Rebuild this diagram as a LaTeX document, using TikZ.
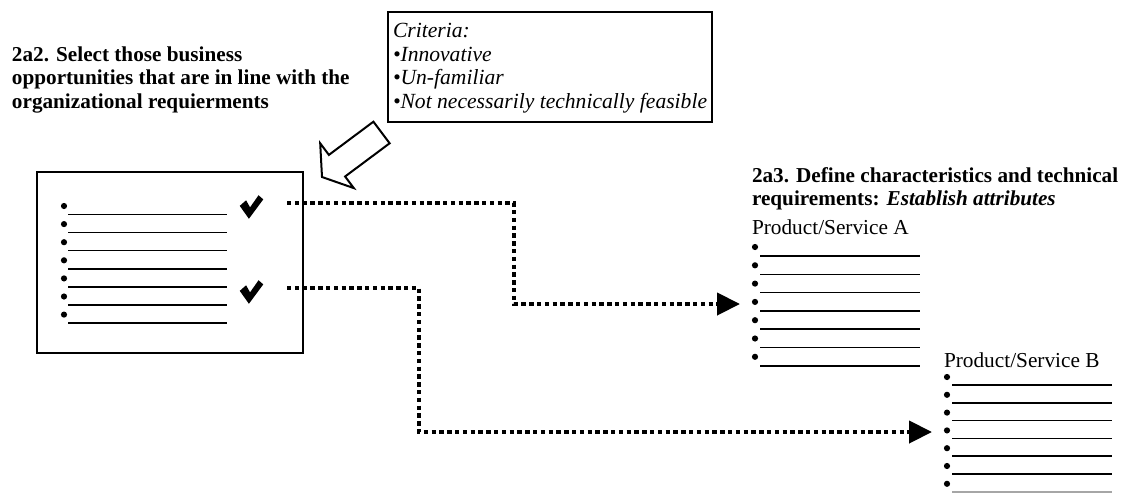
\documentclass[tikz,border=0pt]{standalone}
\usepackage{fontspec}
\setmainfont{Liberation Serif}
\usetikzlibrary{arrows.meta}
\begin{document}
\begin{tikzpicture}[x=1pt,y=-1pt,
  every node/.style={inner sep=0pt, outer sep=0pt},
  hd/.style={anchor=base west, font=\fontsize{21.2}{23.5}\selectfont\bfseries},
  crit/.style={anchor=base west, font=\fontsize{21.6}{23.5}\selectfont\itshape},
  ps/.style={anchor=base west, font=\fontsize{21.3}{24}\selectfont},
  frame/.style={draw, line width=1.7pt},
  dotline/.style={line width=4.3pt, dash pattern=on 4.3pt off 3.5pt,
    -{Triangle[length=23pt,width=22pt]}},
  itemline/.style={line width=1.5pt},
  bul/.style={radius=3.1pt},
  blockarrow/.style={draw, line width=2pt, line join=miter, fill=white},
  tick/.pic={\fill[line join=round, scale=1.12] (-10.5,-1) -- (-4.8,-6) -- (-1.3,0.3)
    -- (6.3,-10.5) -- (10.5,-6.8) -- (-2.3,10.5) -- cycle;},
]
\useasboundingbox (0,0) rectangle (1125,493);

% step 2a2 heading
\node[hd] (h2a2a) at (12,61) {2a2. Select those business};
\node[hd] (h2a2b) at (12,84.5) {opportunities that are in line with the};
\node[hd] (h2a2c) at (12,108) {organizational requierments};

% criteria box
\node[frame, minimum width=324pt, minimum height=110pt] (critbox) at (550,67) {};
\node[crit] (c0) at (393,37) {Criteria:};
\node[crit] (c1) at (393,61) {•Innovative};
\node[crit] (c2) at (393,84.5) {•Un-familiar};
\node[crit] (c3) at (393,108) {•Not necessarily technically feasible};

% hollow arrow from the criteria down to the list
\draw[blockarrow] (373.4,121.7) -- (328.9,154.9) -- (320.2,143.3) -- (322,177)
  -- (353.8,188.1) -- (345.1,176.5) -- (389.6,143.3) -- cycle;

% list of business opportunities
\node[frame, minimum width=266pt, minimum height=181pt] (opps) at (170,262.5) {};
\foreach \i in {0,...,6} {
  \fill (64,{206+18.1*\i}) circle[bul];
  \draw[itemline] (68,{214.5+18.1*\i}) -- (227,{214.5+18.1*\i});
}
\pic at (251.5,207) {tick};
\pic at (251.5,292) {tick};

% step 2a3 heading
\node[hd] (h2a3a) at (752,182) {2a3. Define characteristics and technical};
\node[hd] (h2a3b) at (752,205.5) {requirements: \textit{Establish attributes}};

% attribute lists
\node[ps] (psa) at (752,234) {Product/Service A};
\foreach \i in {0,...,6} {
  \fill (755,{247+18.3*\i}) circle[bul];
  \draw[itemline] (760,{256+18.3*\i}) -- (920,{256+18.3*\i});
}

\node[ps] (psb) at (944,367) {Product/Service B};
\foreach \i in {0,...,6} {
  \fill (947,{377+17.8*\i}) circle[bul];
}
\foreach \i in {0,...,5} {
  \draw[itemline] (952,{385+17.8*\i}) -- (1112,{385+17.8*\i});
}
\draw[itemline, black!35] (952,491.8) -- (1112,491.8);

% connectors
\coordinate (s1) at (287,203);
\coordinate (j1) at (514,203);
\coordinate (tA) at (740,304);
\coordinate (s2) at (287,288);
\coordinate (j2) at (419,288);
\coordinate (tB) at (932,432);
\draw[dotline] (s1) -- (j1) |- (tA);
\draw[dotline] (s2) -- (j2) |- (tB);
\end{tikzpicture}
\end{document}
